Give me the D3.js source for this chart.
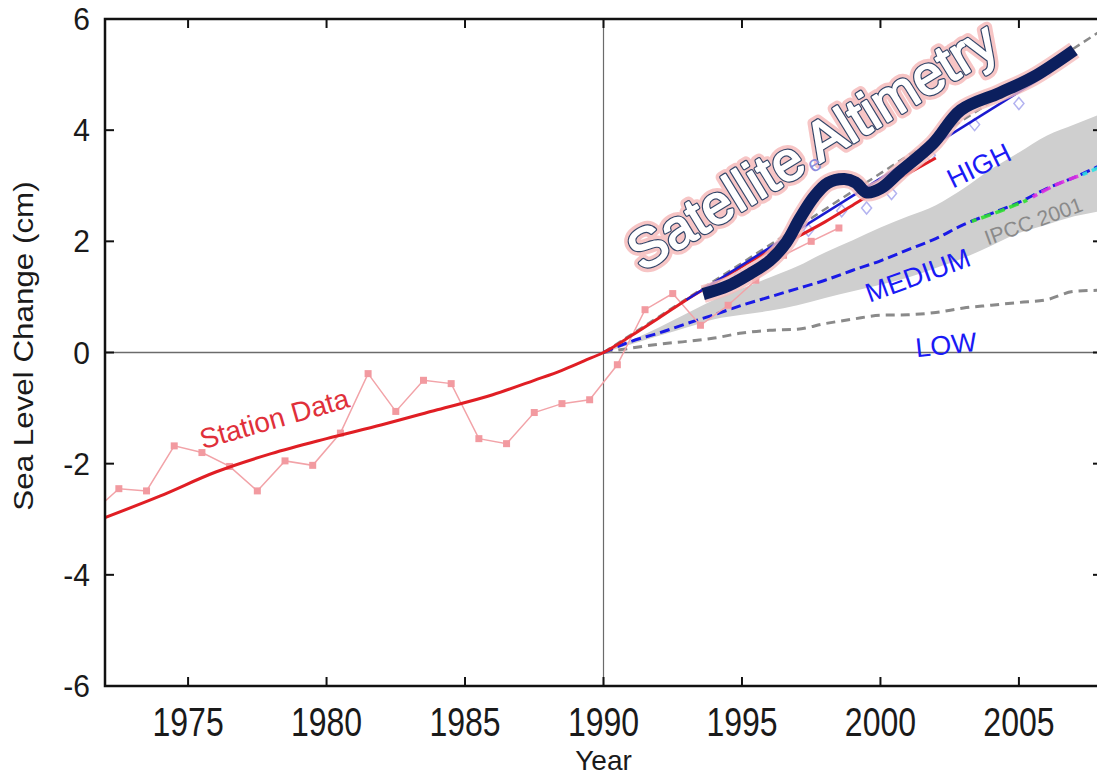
<!DOCTYPE html>
<html>
<head>
<meta charset="utf-8">
<script src="https://cdn.jsdelivr.net/npm/d3@7"></script>
<style>
  body { margin: 0; background: #fff; }
  svg { display: block; font-family: "Liberation Sans", Arial, sans-serif; }
</style>
</head>
<body>
<svg id="chart" width="1097" height="778"></svg>
<script>
// ---- data ----
var xTicks = [1975, 1980, 1985, 1990, 1995, 2000, 2005];
var yTicks = [-6, -4, -2, 0, 2, 4, 6];

// yearly station means (pink markers)
var stationYears = [1971.5, 1972.5, 1973.5, 1974.5, 1975.5, 1976.5, 1977.5, 1978.5, 1979.5, 1980.5,
  1981.5, 1982.5, 1983.5, 1984.5, 1985.5, 1986.5, 1987.5, 1988.5, 1989.5, 1990.5,
  1991.5, 1992.5, 1993.5, 1994.5, 1995.5, 1996.5, 1997.5, 1998.5];
var stationVals = [-2.9, -2.45, -2.49, -1.68, -1.8, -2.05, -2.49, -1.95, -2.03, -1.45,
  -0.38, -1.06, -0.5, -0.56, -1.55, -1.64, -1.08, -0.92, -0.85, -0.22,
  0.77, 1.06, 0.49, 0.85, 1.3, 1.75, 2.0, 2.24];

// smoothed station fit (red)
var fitYears = [1972, 1974, 1976, 1978, 1980, 1982, 1984, 1986, 1987.5, 1988.5, 1989.3, 1990,
  1991, 1992, 1993, 1994, 1995, 1996, 1997, 1998, 1999, 2000, 2001, 2002];
var fitVals = [-2.97, -2.58, -2.15, -1.82, -1.55, -1.3, -1.03, -0.76, -0.5, -0.32, -0.15, 0,
  0.3, 0.62, 0.95, 1.25, 1.55, 1.83, 2.08, 2.35, 2.65, 2.95, 3.22, 3.5];

// satellite altimetry (thick navy)
var satYears = [1993.6, 1994.5, 1995.3, 1996.0, 1996.6, 1997.1, 1997.6, 1998.1, 1998.7, 1999.1,
  1999.5, 2000.0, 2000.7, 2001.9, 2002.9, 2004.3, 2005.5, 2007.0];
var satVals = [1.05, 1.2, 1.42, 1.65, 1.98, 2.42, 2.8, 3.05, 3.12, 3.06,
  2.88, 2.95, 3.25, 3.76, 4.36, 4.67, 4.95, 5.44];

// satellite trend (thin blue)
var trendYears = [1993, 2006];
var trendVals = [0.95, 5.0];

// faint satellite markers
var satPtYears = [1993.8, 1994.9, 1996.2, 1997.4, 1998.6, 1999.5, 2000.4, 2001.8, 2003.4, 2005.0, 2006.1];
var satPtVals = [1.12, 1.4, 1.75, 2.2, 2.55, 2.6, 2.86, 3.55, 4.1, 4.48, 5.1];

// extrapolated upper (grey dashed)
var upperYears = [1990, 2008];
var upperVals = [0, 5.8];

// projections
var projYears = [1990, 1991, 1992, 1993, 1994, 1995, 1996, 1997, 1998, 1999, 2000,
  2001, 2002, 2003, 2004, 2005, 2006, 2007, 2008];
var mediumVals = [0, 0.2, 0.35, 0.52, 0.68, 0.85, 1.0, 1.15, 1.3, 1.48, 1.65,
  1.85, 2.05, 2.3, 2.5, 2.7, 2.95, 3.15, 3.38];
var lowVals = [0, 0.08, 0.15, 0.2, 0.26, 0.35, 0.4, 0.42, 0.52, 0.6, 0.67,
  0.68, 0.72, 0.8, 0.85, 0.9, 0.95, 1.1, 1.12];
var bandHigh = [0, 0.22, 0.45, 0.7, 0.95, 1.15, 1.35, 1.55, 1.8, 2.02, 2.25,
  2.45, 2.65, 2.95, 3.3, 3.6, 3.9, 4.1, 4.3];
var bandLow = [0, 0.15, 0.3, 0.45, 0.6, 0.68, 0.75, 0.85, 0.98, 1.1, 1.22,
  1.35, 1.52, 1.7, 1.92, 2.15, 2.3, 2.45, 2.55];

// coloured scenario bits sitting on the medium curve
var scenBits = [
  { color: "#2ee02e", years: [2003.3, 2004.3, 2005.3], vals: [2.36, 2.54, 2.74] },
  { color: "#e030e0", years: [2005.5, 2006.4, 2007.3], vals: [2.8, 3.03, 3.2] },
  { color: "#30e0e0", years: [2007.3, 2008], vals: [3.2, 3.35] }
];

// ---- layout ----
var svg = d3.select("#chart");
var mLeft = 105, mTop = 19, mRight = 1102, mBottom = 686;

var x = d3.scaleLinear().domain([1972, 2008]).range([mLeft, mRight]);
var y = d3.scaleLinear().domain([-6, 6]).range([mBottom, mTop]);

function zip(xs, ys) { return xs.map(function(v, i) { return [v, ys[i]]; }); }

svg.append("defs").append("clipPath").attr("id", "plot")
  .append("rect").attr("x", mLeft).attr("y", mTop).attr("width", mRight - mLeft).attr("height", mBottom - mTop);

var plot = svg.append("g").attr("clip-path", "url(#plot)");

var line = d3.line().x(function(d) { return x(d[0]); }).y(function(d) { return y(d[1]); });
var smooth = d3.line().curve(d3.curveMonotoneX).x(function(d) { return x(d[0]); }).y(function(d) { return y(d[1]); });

// grey IPCC band
var band = d3.area().curve(d3.curveMonotoneX)
  .x(function(d) { return x(d[0]); })
  .y0(function(d) { return y(d[1]); })
  .y1(function(d) { return y(d[2]); });
plot.append("path")
  .datum(projYears.map(function(v, i) { return [v, bandLow[i], bandHigh[i]]; }))
  .attr("d", band).attr("fill", "#cfcfcf");

// reference lines
plot.append("line").attr("x1", mLeft).attr("x2", mRight).attr("y1", y(0)).attr("y2", y(0))
  .attr("stroke", "#6b6b6b").attr("stroke-width", 1.5);
plot.append("line").attr("x1", x(1990)).attr("x2", x(1990)).attr("y1", mTop).attr("y2", mBottom)
  .attr("stroke", "#6b6b6b").attr("stroke-width", 1.2);

// low & upper dashed grey
plot.append("path").datum(zip(projYears, lowVals)).attr("d", smooth)
  .attr("fill", "none").attr("stroke", "#8a8a8a").attr("stroke-width", 3).attr("stroke-dasharray", "9,6");
plot.append("path").datum(zip(upperYears, upperVals)).attr("d", line)
  .attr("fill", "none").attr("stroke", "#8a8a8a").attr("stroke-width", 2.5).attr("stroke-dasharray", "8,5");

// medium dashed blue + scenario bits
plot.append("path").datum(zip(projYears, mediumVals)).attr("d", smooth)
  .attr("fill", "none").attr("stroke", "#1a1ae6").attr("stroke-width", 3).attr("stroke-dasharray", "10,5");
scenBits.forEach(function(s) {
  plot.append("path").datum(zip(s.years, s.vals)).attr("d", smooth)
    .attr("fill", "none").attr("stroke", s.color).attr("stroke-width", 3.5).attr("stroke-dasharray", "10,5")
    .attr("stroke-dashoffset", 5).attr("opacity", 0.9);
});

// station markers
plot.append("path").datum(zip(stationYears, stationVals)).attr("d", line)
  .attr("fill", "none").attr("stroke", "#f2a3a8").attr("stroke-width", 1.5);
plot.selectAll(".spt").data(zip(stationYears, stationVals)).enter().append("rect")
  .attr("class", "spt")
  .attr("x", function(d) { return x(d[0]) - 3.5; })
  .attr("y", function(d) { return y(d[1]) - 3.5; })
  .attr("width", 7).attr("height", 7)
  .attr("fill", "#f29aa0");

// faint satellite markers
plot.selectAll(".apt").data(zip(satPtYears, satPtVals)).enter().append("path")
  .attr("class", "apt")
  .attr("transform", function(d) { return "translate(" + x(d[0]) + "," + y(d[1]) + ")"; })
  .attr("d", "M0,-6L5,0L0,6L-5,0Z")
  .attr("fill", "none").attr("stroke", "#b3b3f0").attr("stroke-width", 1.5);

// red fit, blue trend
plot.append("path").datum(zip(fitYears, fitVals)).attr("d", smooth)
  .attr("fill", "none").attr("stroke", "#e01e24").attr("stroke-width", 3);
plot.append("path").datum(zip(trendYears, trendVals)).attr("d", line)
  .attr("fill", "none").attr("stroke", "#1a1ad0").attr("stroke-width", 2.5);

// satellite thick line with pink halo
var satPts = zip(satYears, satVals);
var satCurve = d3.line().curve(d3.curveCatmullRom.alpha(0.5)).x(function(d) { return x(d[0]); }).y(function(d) { return y(d[1]); });
plot.append("path").datum(satPts).attr("d", satCurve)
  .attr("fill", "none").attr("stroke", "#f5bcbc").attr("stroke-width", 18).attr("stroke-linecap", "butt").attr("opacity", 0.8);
plot.append("path").datum(satPts).attr("d", satCurve)
  .attr("fill", "none").attr("stroke", "#0c1f5e").attr("stroke-width", 12).attr("stroke-linecap", "butt");

// ---- labels ----
function label(txt, cx, cy, rot, size, color) {
  return svg.append("text").attr("transform", "translate(" + cx + "," + cy + ") rotate(" + rot + ")")
    .attr("text-anchor", "middle").attr("font-size", size).attr("fill", color).text(txt);
}
label("Station Data", 277, 428, -16, 28, "#e0303a");
label("HIGH", 983, 174, -26, 27, "#1a1af5");
label("MEDIUM", 921, 284, -20, 27, "#1a1af5");
label("LOW", 947, 354, -6, 27, "#1a1af5");
label("IPCC 2001", 1036, 228, -20, 21, "#8a8a8a");

// outlined "Satellite Altimetry"
var satText = { x: 822, y: 162, rot: -31.5, size: 55 };
[["#f6bcbc", 11, 0.85], ["#34476a", 4, 1], ["#ffffff", 1.6, 1]].forEach(function(s) {
  svg.append("text")
    .attr("transform", "translate(" + satText.x + "," + satText.y + ") rotate(" + satText.rot + ")")
    .attr("text-anchor", "middle").attr("font-size", satText.size)
    .attr("fill", "#ffffff").attr("stroke", s[0]).attr("stroke-width", s[1])
    .attr("stroke-linejoin", "round").attr("opacity", s[2])
    .text("Satellite Altimetry");
});
label("e", 818, 170, -31.5, 22, "#8c8cdc");

// ---- axes ----
var ax = svg.append("g");
ax.append("rect").attr("x", mLeft).attr("y", mTop).attr("width", mRight - mLeft).attr("height", mBottom - mTop)
  .attr("fill", "none").attr("stroke", "#111").attr("stroke-width", 2.5);

ax.selectAll(".xt").data(xTicks).enter().append("g").each(function(d) {
  var g = d3.select(this);
  g.append("line").attr("x1", x(d)).attr("x2", x(d)).attr("y1", mBottom).attr("y2", mBottom - 9).attr("stroke", "#111").attr("stroke-width", 2);
  g.append("line").attr("x1", x(d)).attr("x2", x(d)).attr("y1", mTop).attr("y2", mTop + 9).attr("stroke", "#111").attr("stroke-width", 2);
  g.append("text").attr("transform", "translate(" + x(d) + "," + (mBottom + 50) + ") scale(1,1.25)")
    .attr("text-anchor", "middle")
    .attr("font-size", 32).attr("fill", "#1a1a1a").text(d);
});
ax.selectAll(".yt").data(yTicks).enter().append("g").each(function(d) {
  var g = d3.select(this);
  g.append("line").attr("x1", mLeft).attr("x2", mLeft + 9).attr("y1", y(d)).attr("y2", y(d)).attr("stroke", "#111").attr("stroke-width", 2);
  g.append("line").attr("x1", mRight).attr("x2", mRight - 9).attr("y1", y(d)).attr("y2", y(d)).attr("stroke", "#111").attr("stroke-width", 2);
  g.append("text").attr("transform", "translate(" + (mLeft - 15) + "," + (y(d) + 11) + ") scale(1,1.05)")
    .attr("text-anchor", "end")
    .attr("font-size", 30).attr("fill", "#1a1a1a").text(d);
});

svg.append("text").attr("x", x(1990)).attr("y", 770).attr("text-anchor", "middle")
  .attr("font-size", 28).attr("fill", "#1a1a1a").text("Year");
svg.append("text").attr("transform", "translate(33,346) rotate(-90) scale(1.12,1)").attr("text-anchor", "middle")
  .attr("font-size", 28).attr("fill", "#1a1a1a").text("Sea Level Change (cm)");
</script>
</body>
</html>
